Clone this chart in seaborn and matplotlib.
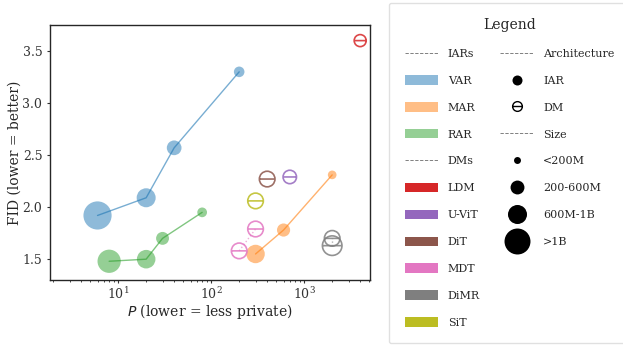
import matplotlib
matplotlib.use("Agg")
import matplotlib.pyplot as plt
from matplotlib.path import Path
from matplotlib.lines import Line2D
from matplotlib.patches import Patch
import numpy as np
import pandas as pd
import seaborn as sns

# ---- data: privacy score P, FID and model size (millions of parameters) ----
var_p = [6, 20, 40, 200]
var_fid = [1.92, 2.09, 2.57, 3.30]
var_params = [2200, 1000, 600, 310]

mar_p = [300, 600, 2000]
mar_fid = [1.55, 1.78, 2.31]
mar_params = [943, 479, 208]

rar_p = [8, 20, 30, 80]
rar_fid = [1.48, 1.50, 1.70, 1.95]
rar_params = [1500, 955, 461, 261]

ldm_p, ldm_fid, ldm_params = [4000], [3.60], [400]
uvit_p, uvit_fid, uvit_params = [700], [2.29], [501]
dit_p, dit_fid, dit_params = [400], [2.27], [675]
mdt_p, mdt_fid, mdt_params = [200, 300], [1.58, 1.79], [676, 676]
dimr_p, dimr_fid, dimr_params = [2000, 2000], [1.63, 1.70], [1060, 675]
sit_p, sit_fid, sit_params = [300], [2.06], [675]

iar_models = ["VAR", "MAR", "RAR"]
dm_models = ["LDM", "U-ViT", "DiT", "MDT", "DiMR", "SiT"]
size_labels = ["<200M", "200-600M", "600M-1B", ">1B"]

colors = {
    "VAR": "tab:blue", "MAR": "tab:orange", "RAR": "tab:green",
    "LDM": "tab:red", "U-ViT": "tab:purple", "DiT": "tab:brown",
    "MDT": "tab:pink", "DiMR": "tab:gray", "SiT": "tab:olive",
}

series = {
    "VAR": (var_p, var_fid, var_params),
    "MAR": (mar_p, mar_fid, mar_params),
    "RAR": (rar_p, rar_fid, rar_params),
    "LDM": (ldm_p, ldm_fid, ldm_params),
    "U-ViT": (uvit_p, uvit_fid, uvit_params),
    "DiT": (dit_p, dit_fid, dit_params),
    "MDT": (mdt_p, mdt_fid, mdt_params),
    "DiMR": (dimr_p, dimr_fid, dimr_params),
    "SiT": (sit_p, sit_fid, sit_params),
}

rows = []
for name, (p, f, n) in series.items():
    for pi, fi, ni in zip(p, f, n):
        rows.append({"model": name, "P": pi, "FID": fi, "params": ni})
df = pd.DataFrame(rows)

# marker area (pt^2) proportional to parameter count
AREA_PER_M = 0.187

# circle with a horizontal bar for diffusion models
_circle = Path.unit_circle()
_bar = Path([[-1.0, 0.0], [1.0, 0.0]], [Path.MOVETO, Path.LINETO])
dm_marker = Path.make_compound_path(_circle, _bar)

sns.set_theme(style="ticks")
plt.rcParams["font.family"] = ["DejaVu Serif"]
plt.rcParams.update({
    "axes.edgecolor": "0.15",
    "axes.linewidth": 1.0,
    "xtick.major.size": 2.5,
    "ytick.major.size": 2.5,
    "xtick.minor.size": 1.5,
    "xtick.major.width": 0.8,
    "ytick.major.width": 0.8,
    "xtick.minor.width": 0.6,
    "xtick.major.pad": 2.0,
    "ytick.major.pad": 3.0,
})

fig = plt.figure(figsize=(6.23, 3.45), dpi=100)
ax = fig.add_axes([50 / 623, 1 - 280 / 345, 320 / 623, 255 / 345])
ax.set_xscale("log")

for name in iar_models:
    sub = df[df.model == name]
    sns.scatterplot(data=sub, x="P", y="FID", ax=ax, color=colors[name],
                    s=sub.params.values * AREA_PER_M, alpha=0.5,
                    edgecolor="none", linewidth=0, legend=False, zorder=2)
    sns.lineplot(data=sub, x="P", y="FID", ax=ax, color=colors[name],
                 alpha=0.6, lw=1.0, estimator=None, sort=True,
                 legend=False, zorder=3)

for name in dm_models:
    sub = df[df.model == name]
    sns.scatterplot(data=sub, x="P", y="FID", ax=ax, color=colors[name],
                    s=sub.params.values * AREA_PER_M, marker=dm_marker,
                    facecolors="none", edgecolors=colors[name],
                    linewidth=1.2, alpha=0.85, legend=False, zorder=2)
    if len(sub) > 1:
        sns.lineplot(data=sub, x="P", y="FID", ax=ax, color=colors[name],
                     alpha=0.6, lw=1.0, ls=":", estimator=None, sort=True,
                     legend=False, zorder=3)

ax.set_xlim(1.85, 5100)
ax.set_ylim(1.3, 3.75)
ax.set_yticks([1.5, 2.0, 2.5, 3.0, 3.5])
ax.set_xlabel("$P$ (lower = less private)", fontsize=10, labelpad=0)
ax.set_ylabel("FID (lower = better)", fontsize=10, labelpad=0.5)
ax.tick_params(axis="both", labelsize=9, colors="0.2")

# ---- legend ----
def header():
    return Line2D([0], [0], color="gray", lw=0.7, ls=(0, (3.4, 1.6)))

blank = Line2D([], [], ls="none")
handles, labels = [], []
handles.append(header()); labels.append("IARs")
for name in iar_models:
    handles.append(Patch(facecolor=colors[name], alpha=0.5, edgecolor="none"))
    labels.append(name)
handles.append(header()); labels.append("DMs")
for name in dm_models:
    handles.append(Patch(facecolor=colors[name], edgecolor="none"))
    labels.append(name)

handles.append(header()); labels.append("Architecture")
handles.append(Line2D([0], [0], ls="none", marker="o", color="black",
                      markersize=7.2, markeredgewidth=0))
labels.append("IAR")
handles.append(Line2D([0], [0], ls="none", marker=dm_marker,
                      markerfacecolor="none", markeredgecolor="black",
                      markersize=7.0, markeredgewidth=1.0))
labels.append("DM")
handles.append(header()); labels.append("Size")
for lab, ms in zip(size_labels, [5.0, 10.0, 13.7, 18.7]):
    handles.append(Line2D([0], [0], ls="none", marker="o", color="black",
                          markersize=ms, markeredgewidth=0))
    labels.append(lab)
for _ in range(3):
    handles.append(blank); labels.append("")

leg = fig.legend(handles, labels, ncol=2, loc="upper left",
                 bbox_to_anchor=(389 / 623, 1 - 2.5 / 345),
                 fontsize=8, title="Legend", title_fontsize=10,
                 borderpad=1.4, labelspacing=1.47, handlelength=3.0,
                 handleheight=0.93, handletextpad=0.9, columnspacing=1.8,
                 frameon=True, fancybox=True, borderaxespad=0)
leg.get_frame().set_edgecolor("0.85")
leg.get_frame().set_linewidth(1.0)

fig.savefig("out.png", dpi=100)
